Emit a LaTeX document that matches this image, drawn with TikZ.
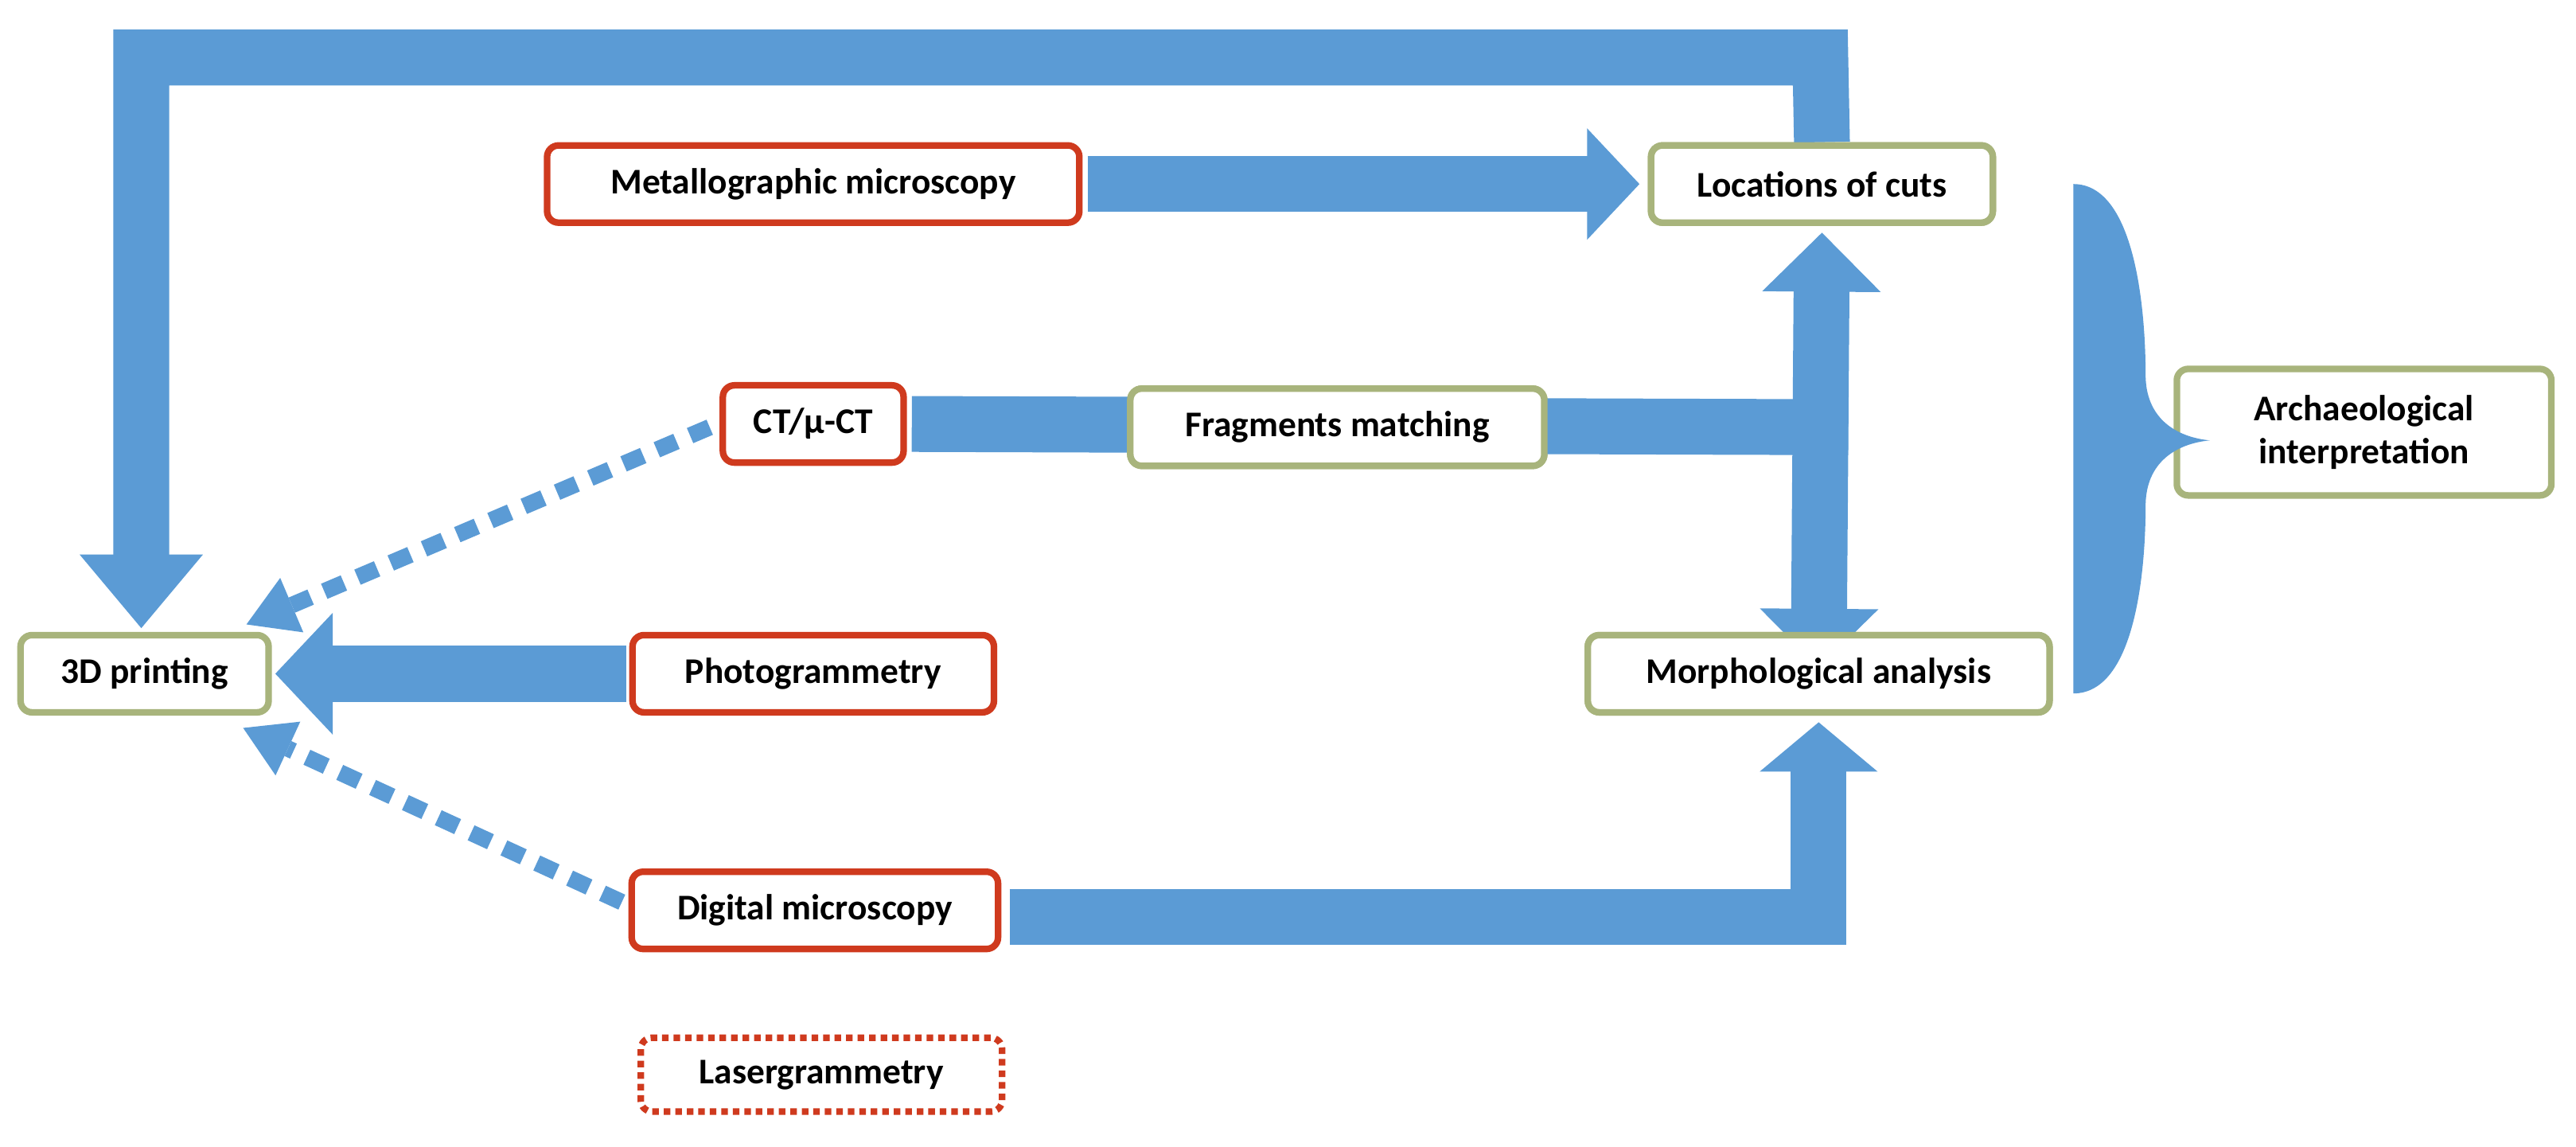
\documentclass[tikz,border=0pt]{standalone}
\usepackage{fontspec}
\setmainfont{Carlito}
\usetikzlibrary{arrows.meta,calc}
\definecolor{bandblue}{HTML}{5B9BD5}
\definecolor{boxred}{HTML}{CF3A1E}
\definecolor{boxgreen}{HTML}{A8B47C}
\begin{document}
\begin{tikzpicture}[x=1pt,y=-1pt,
  box/.style={draw, line width=4pt, rounded corners=7pt, fill=white, font=\fontsize{22}{26}\selectfont\bfseries, minimum height=47pt, inner sep=2pt, align=center},
  rbox/.style={box, draw=boxred},
  gbox/.style={box, draw=boxgreen},
  band/.style={draw=bandblue, line width=34pt, line join=miter},
  bhead/.style={-{Triangle[width=70pt,length=34pt]}},
  dband/.style={draw=bandblue, line width=10pt, dash pattern=on 13pt off 9pt, -{Triangle[width=36pt,length=30pt,line width=0pt]}}]
\useasboundingbox (0,0) rectangle (1568,698);
% nodes (coordinates)
\node[rbox, minimum width=324pt] (metal) at (495,112) {Metallographic microscopy};
\node[gbox, minimum width=208pt] (loc) at (1109,112) {Locations of cuts};
\node[rbox, minimum width=110pt] (ct) at (495,258) {CT/µ-CT};
\node[gbox, minimum width=252pt] (frag) at (814,260) {Fragments matching};
\node[gbox, minimum width=228pt, minimum height=77pt] (arch) at (1439,263) {Archaeological\\interpretation};
\node[gbox, minimum width=151pt] (print) at (88,410) {3D printing};
\node[rbox, minimum width=220pt] (photo) at (495,410) {Photogrammetry};
\node[gbox, minimum width=281pt] (morph) at (1107,410) {Morphological analysis};
\node[rbox, minimum width=223pt] (dig) at (496,554) {Digital microscopy};
\node[box, draw=boxred, dash pattern=on 4pt off 3pt, minimum width=220pt, minimum height=45pt] (laser) at (500,654) {Lasergrammetry};
\coordinate (tr) at (1108,35);
\coordinate (tl) at (86,35);
\coordinate (jn) at (1108,260);
\coordinate (dj) at (1108,557);
% connectors
\begin{scope}[on background layer/.style={}]
\end{scope}
\begin{pgfonlayer}{main}\end{pgfonlayer}
\draw[band, bhead, -{Triangle[width=72pt,length=45pt]}] (loc.north) -- (tr) -- (tl) -- ($(print.north)+(-2,-2)$);
\draw[band, -{Triangle[width=66pt,length=32pt]}] ($(metal.east)+(3,0)$) -- ($(loc.west)+(-5,0)$);
\draw[band] ($(ct.east)+(3,0)$) -- ($(jn)+(17,0)$);
\draw[band, {Triangle[width=70pt,length=36pt]}-{Triangle[width=70pt,length=36pt]}] ($(loc.south)+(0,4)$) -- ($(morph.south)+(0,-29)$);
\draw[band, -{Triangle[width=72pt,length=35pt]}] ($(photo.west)+(-2,0)$) -- ($(print.east)+(2,0)$);
\draw[band, -{Triangle[width=70pt,length=30pt]}] ($(dig.east)+(5,4)$) -| ($(morph.south)+(0,4)$);
\draw[dband] ($(ct.west)+(-6,2)$) -- (150,380);
\draw[dband] ($(dig.west)+(-4,-5)$) -- (148,443);
\fill[bandblue] (1262,112) .. controls (1300,112) and (1306,190) .. (1306,228)
  .. controls (1306,255) and (1325,266) .. (1345,268)
  .. controls (1325,270) and (1306,281) .. (1306,308)
  .. controls (1306,346) and (1300,422) .. (1262,422) -- cycle;
% redraw nodes on top
\node[gbox, minimum width=252pt] at (frag) {Fragments matching};
\node[gbox, minimum width=208pt] at (loc) {Locations of cuts};
\node[gbox, minimum width=281pt] at (morph) {Morphological analysis};
\end{tikzpicture}
\end{document}
